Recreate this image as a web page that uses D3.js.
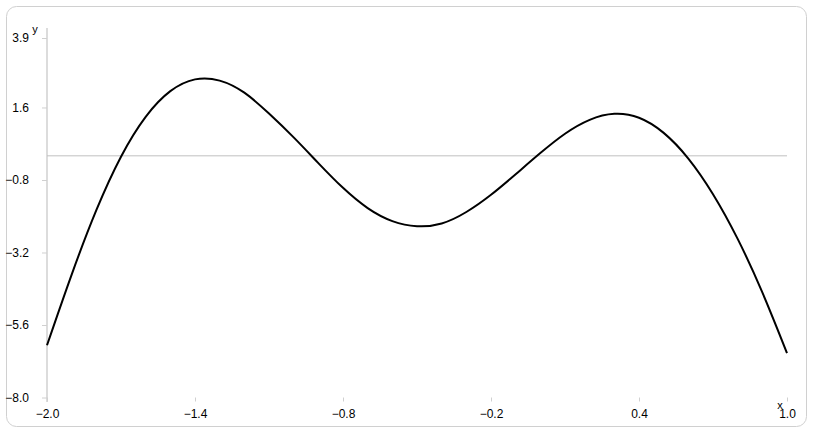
<!DOCTYPE html>
<html>
<head>
<meta charset="utf-8">
<script src="https://cdn.jsdelivr.net/npm/d3@7"></script>
<style>
  html, body { margin: 0; padding: 0; background: #fff; }
  svg { display: block; font-family: 'Liberation Sans', Arial, sans-serif; }
</style>
</head>
<body>
<div id="chart"></div>
<script>
// curve samples, x step 0.1
const xValues = [-2.0, -1.9, -1.8, -1.7, -1.6, -1.5, -1.4, -1.3, -1.2, -1.1, -1.0,
  -0.9, -0.8, -0.7, -0.6, -0.5, -0.4, -0.3, -0.2, -0.1, 0.0,
  0.1, 0.2, 0.3, 0.4, 0.5, 0.6, 0.7, 0.8, 0.9, 1.0];
const yValues = [-6.27, -3.93, -1.80, -0.03, 1.29, 2.14, 2.53, 2.49, 2.09, 1.40, 0.61,
  -0.24, -1.06, -1.73, -2.16, -2.33, -2.24, -1.86, -1.29, -0.61, 0.09,
  0.73, 1.19, 1.39, 1.26, 0.76, -0.09, -1.27, -2.75, -4.52, -6.53];
const xTicks = [-2.0, -1.4, -0.8, -0.2, 0.4, 1.0];
const yTicks = [-8.0, -5.6, -3.2, -0.8, 1.6, 3.9];

const W = 814, H = 434;
const svg = d3.select("#chart").append("svg")
  .attr("width", W)
  .attr("height", H);

// outer frame
svg.append("rect")
  .attr("x", 6.5).attr("y", 6.5)
  .attr("width", 800).attr("height", 420)
  .attr("rx", 10).attr("ry", 10)
  .attr("fill", "#fff")
  .attr("stroke", "#d0d0d0");

const x = d3.scaleLinear().domain([-2, 1]).range([47, 787]);
const y = d3.scaleLinear().domain([-8, 3.9]).range([397.5, 38]);

// y axis line (runs a bit past the tick range)
svg.append("line")
  .attr("x1", x(-2)).attr("x2", x(-2))
  .attr("y1", 28).attr("y2", 402)
  .attr("stroke", "#d0d0d0")
  .attr("stroke-width", 1.5);

const yAxis = svg.append("g")
  .attr("transform", `translate(${x(-2)},0)`)
  .call(d3.axisLeft(y).tickValues(yTicks).tickFormat(d3.format(".1f")).tickSize(5).tickPadding(13));
yAxis.select(".domain").remove();
yAxis.selectAll(".tick line").attr("stroke", "#d0d0d0");
yAxis.selectAll(".tick text").attr("fill", "#000").style("font-size", "12px");

const xAxis = svg.append("g")
  .attr("transform", `translate(0,${y(-8)})`)
  .call(d3.axisBottom(x).tickValues(xTicks).tickFormat(d3.format(".1f")).tickSize(4).tickPadding(8));
xAxis.select(".domain").remove();
xAxis.selectAll(".tick line").attr("stroke", "#d0d0d0");
xAxis.selectAll(".tick text").attr("fill", "#000").style("font-size", "12px");

// horizontal line at y = 0
svg.append("line")
  .attr("x1", x(-2)).attr("x2", x(1))
  .attr("y1", y(0)).attr("y2", y(0))
  .attr("stroke", "#c0c0c0")
  .attr("stroke-width", 1);

// axis names
svg.append("text")
  .attr("x", 35).attr("y", 33)
  .attr("text-anchor", "middle")
  .style("font-size", "11px")
  .text("y");
svg.append("text")
  .attr("x", 780).attr("y", 408.5)
  .attr("text-anchor", "middle")
  .style("font-size", "11px")
  .text("x");

const points = xValues.map((d, i) => [d, yValues[i]]);
svg.append("path")
  .datum(points)
  .attr("fill", "none")
  .attr("stroke", "#000")
  .attr("stroke-width", 2)
  .attr("d", d3.line()
    .x(d => x(d[0]))
    .y(d => y(d[1]))
    .curve(d3.curveNatural));
</script>
</body>
</html>
